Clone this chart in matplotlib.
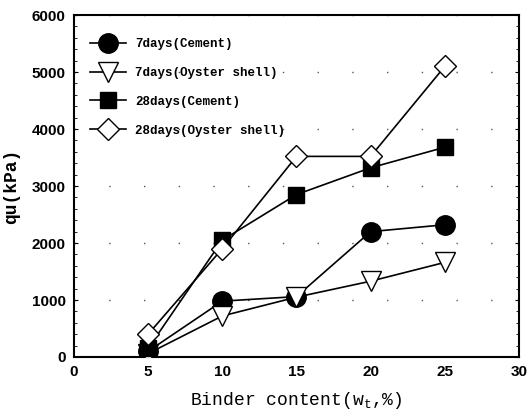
import matplotlib
matplotlib.use("Agg")
import matplotlib.pyplot as plt

binder = [5, 10, 15, 20, 25]
cement_7 = [100, 980, 1060, 2200, 2320]
oyster_7 = [60, 720, 1050, 1330, 1660]
cement_28 = [150, 2050, 2850, 3320, 3680]
oyster_28 = [400, 1900, 3520, 3520, 5100]
labels = ["7days(Cement)", "7days(Oyster shell)", "28days(Cement)", "28days(Oyster shell)"]
xticks = [0, 5, 10, 15, 20, 25, 30]
yticks = [0, 1000, 2000, 3000, 4000, 5000, 6000]

fig = plt.figure(figsize=(5.28, 4.12), dpi=100)
ax = fig.add_axes([0.140, 0.1335, 0.843, 0.830])

ax.plot(binder, cement_7, '-', color='black', lw=1.2, marker='o', ms=14, mfc='black', mec='black', label=labels[0], zorder=3)
ax.plot(binder, oyster_7, '-', color='black', lw=1.2, marker='v', ms=14, mfc='white', mec='black', mew=1.0, label=labels[1], zorder=3)
ax.plot(binder, cement_28, '-', color='black', lw=1.2, marker='s', ms=12, mfc='black', mec='black', label=labels[2], zorder=3)
ax.plot(binder, oyster_28, '-', color='black', lw=1.2, marker='D', ms=11, mfc='white', mec='black', mew=1.0, label=labels[3], zorder=3)

ax.set_xlim(0, 30)
ax.set_ylim(0, 6000)
ax.set_xticks(xticks)
ax.set_yticks(yticks)
ax.set_yticks(range(0, 6001, 200), minor=True)
ax.tick_params(axis='y', which='minor', length=2, direction='in', right=True)
ax.tick_params(axis='both', which='major', length=0, labelsize=11, pad=6)
ax.tick_params(axis='y', which='major', direction='in', length=3, right=True)
for lab in ax.get_xticklabels() + ax.get_yticklabels():
    lab.set_fontfamily('Liberation Sans')
    lab.set_fontweight('bold')

ax.yaxis.grid(True, which='major', color='#555555', linestyle=(0, (1, 24)), lw=1.0)
for sp in ax.spines.values():
    sp.set_linewidth(1.5)

ax.set_xlabel("Binder content(w$_\\mathregular{t}$,%)", fontfamily='Liberation Mono', fontsize=13, labelpad=8)
ax.set_ylabel("qu(kPa)", fontfamily='Liberation Mono', fontsize=13, fontweight='bold', labelpad=8)

leg = ax.legend(loc='upper left', frameon=False, prop={'family': 'Liberation Mono', 'size': 9, 'weight': 'bold'},
                handlelength=2.9, handletextpad=0.7, borderpad=0, borderaxespad=0,
                labelspacing=1.35, bbox_to_anchor=(16 / 445, 1 - 23 / 342))

fig.savefig("out.png", dpi=100)
